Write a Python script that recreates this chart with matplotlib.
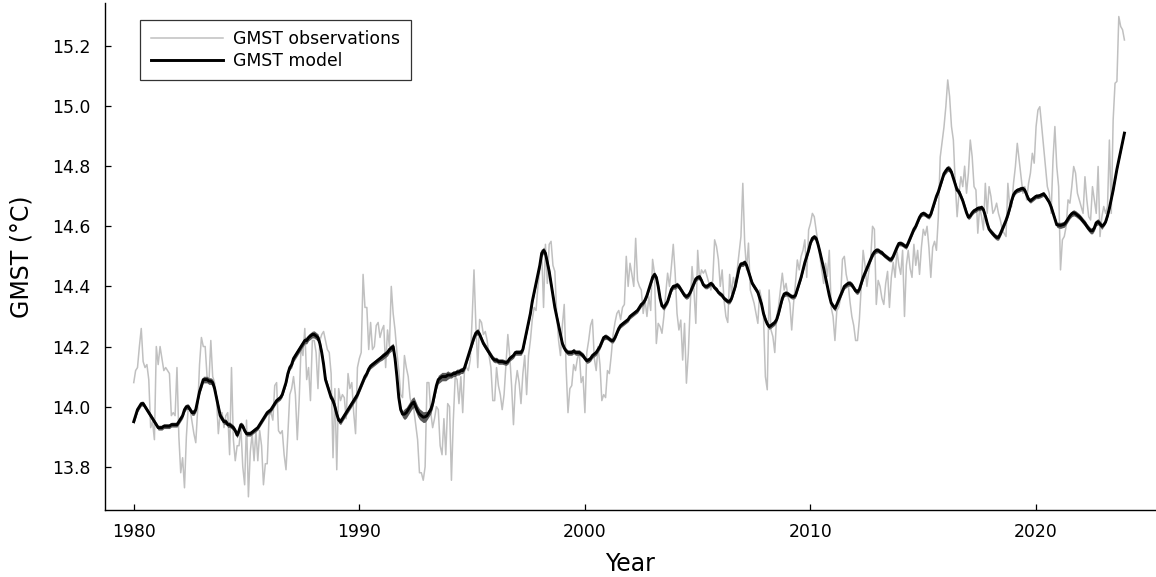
import numpy as np
import matplotlib
matplotlib.use("Agg")
import matplotlib.pyplot as plt

# Monthly global mean surface temperature, Jan 1980 - Dec 2023 (deg C)
gmst_obs = [
    14.08, 14.12, 14.13, 14.20, 14.26, 14.15, 14.13, 14.14, 14.09, 13.93, 13.95, 13.89,  # 1980
    14.20, 14.14, 14.20, 14.16, 14.12, 14.13, 14.12, 14.11, 13.97, 13.98, 13.97, 14.13,  # 1981
    13.90, 13.78, 13.83, 13.73, 13.90, 14.00, 13.99, 13.95, 13.91, 13.88, 13.99, 14.14,  # 1982
    14.23, 14.20, 14.20, 14.10, 14.08, 14.22, 14.10, 14.08, 14.03, 13.91, 13.98, 13.98,  # 1983
    13.93, 13.97, 13.98, 13.84, 14.13, 13.89, 13.82, 13.87, 13.87, 13.93, 13.80, 13.74,  # 1984
    13.955, 13.70, 13.85, 13.91, 13.82, 13.92, 13.82, 13.92, 13.87, 13.74, 13.81, 13.81,  # 1985
    13.97, 13.98, 13.955, 14.07, 14.08, 13.92, 13.91, 13.92, 13.84, 13.79, 13.91, 14.04,  # 1986
    14.06, 14.10, 14.04, 13.89, 14.02, 14.20, 14.17, 14.26, 14.09, 14.13, 14.02, 14.22,  # 1987
    14.22, 14.18, 14.06, 14.22, 14.24, 14.25, 14.22, 14.19, 14.18, 14.11, 13.83, 14.06,  # 1988
    13.79, 14.06, 14.02, 14.04, 14.03, 13.96, 14.11, 14.06, 14.08, 13.98, 13.91, 14.13,  # 1989
    14.16, 14.18, 14.44, 14.33, 14.33, 14.19, 14.28, 14.19, 14.20, 14.27, 14.28, 14.23,  # 1990
    14.255, 14.27, 14.13, 14.255, 14.20, 14.40, 14.31, 14.255, 14.18, 14.12, 14.04, 14.03,  # 1991
    14.17, 14.13, 14.10, 14.03, 14.00, 13.99, 13.94, 13.89, 13.78, 13.78, 13.755, 13.80,  # 1992
    14.08, 14.08, 13.98, 13.93, 13.96, 14.00, 13.99, 13.87, 13.84, 13.96, 13.84, 14.01,  # 1993
    14.00, 13.755, 13.955, 14.10, 14.09, 14.01, 14.10, 13.98, 14.13, 14.13, 14.12, 14.155,  # 1994
    14.29, 14.455, 14.27, 14.13, 14.29, 14.28, 14.24, 14.25, 14.22, 14.17, 14.13, 14.02,  # 1995
    14.02, 14.13, 14.07, 14.04, 13.99, 14.04, 14.14, 14.24, 14.17, 14.07, 13.94, 14.07,  # 1996
    14.12, 14.08, 14.01, 14.11, 14.17, 14.04, 14.17, 14.22, 14.29, 14.33, 14.32, 14.40,  # 1997
    14.455, 14.52, 14.33, 14.54, 14.41, 14.54, 14.55, 14.47, 14.45, 14.31, 14.22, 14.17,  # 1998
    14.27, 14.34, 14.13, 13.98, 14.06, 14.07, 14.14, 14.12, 14.16, 14.18, 14.08, 14.10,  # 1999
    13.98, 14.18, 14.22, 14.27, 14.29, 14.16, 14.12, 14.20, 14.14, 14.02, 14.04, 14.03,  # 2000
    14.12, 14.11, 14.17, 14.24, 14.28, 14.31, 14.32, 14.29, 14.33, 14.34, 14.50, 14.40,  # 2001
    14.477, 14.44, 14.40, 14.56, 14.42, 14.40, 14.388, 14.31, 14.355, 14.30, 14.366, 14.32,  # 2002
    14.49, 14.444, 14.21, 14.277, 14.266, 14.244, 14.30, 14.377, 14.444, 14.40, 14.466, 14.54,  # 2003
    14.444, 14.31, 14.255, 14.288, 14.155, 14.277, 14.078, 14.177, 14.333, 14.466, 14.388, 14.277,  # 2004
    14.52, 14.42, 14.455, 14.444, 14.455, 14.433, 14.41, 14.388, 14.42, 14.555, 14.533, 14.49,  # 2005
    14.40, 14.455, 14.355, 14.30, 14.28, 14.44, 14.377, 14.43, 14.40, 14.455, 14.51, 14.566,  # 2006
    14.743, 14.544, 14.455, 14.544, 14.388, 14.366, 14.344, 14.31, 14.277, 14.388, 14.355, 14.30,  # 2007
    14.10, 14.056, 14.388, 14.255, 14.233, 14.18, 14.30, 14.333, 14.388, 14.444, 14.388, 14.41,  # 2008
    14.366, 14.344, 14.255, 14.344, 14.41, 14.488, 14.455, 14.50, 14.52, 14.555, 14.43, 14.588,  # 2009
    14.61, 14.643, 14.632, 14.588, 14.544, 14.50, 14.455, 14.41, 14.477, 14.433, 14.52, 14.33,  # 2010
    14.30, 14.22, 14.32, 14.33, 14.36, 14.49, 14.50, 14.44, 14.41, 14.35, 14.30, 14.27,  # 2011
    14.22, 14.22, 14.29, 14.40, 14.52, 14.47, 14.40, 14.45, 14.49, 14.60, 14.59, 14.34,  # 2012
    14.42, 14.40, 14.36, 14.34, 14.41, 14.45, 14.33, 14.43, 14.48, 14.43, 14.52, 14.47,  # 2013
    14.44, 14.52, 14.30, 14.47, 14.52, 14.46, 14.43, 14.54, 14.47, 14.52, 14.44, 14.53,  # 2014
    14.59, 14.57, 14.60, 14.53, 14.43, 14.53, 14.55, 14.52, 14.63, 14.83, 14.88, 14.93,  # 2015
    14.998, 15.087, 15.032, 14.932, 14.887, 14.743, 14.632, 14.71, 14.765, 14.732, 14.80, 14.71,  # 2016
    14.777, 14.887, 14.832, 14.732, 14.721, 14.577, 14.666, 14.632, 14.588, 14.743, 14.643, 14.732,  # 2017
    14.699, 14.643, 14.655, 14.677, 14.643, 14.621, 14.588, 14.577, 14.566, 14.743, 14.666, 14.666,  # 2018
    14.743, 14.799, 14.876, 14.821, 14.765, 14.71, 14.732, 14.688, 14.743, 14.777, 14.843, 14.81,  # 2019
    14.932, 14.987, 14.998, 14.932, 14.865, 14.799, 14.732, 14.71, 14.643, 14.821, 14.932, 14.799,  # 2020
    14.732, 14.455, 14.555, 14.566, 14.60, 14.688, 14.677, 14.732, 14.799, 14.777, 14.71, 14.688,  # 2021
    14.666, 14.643, 14.765, 14.688, 14.632, 14.621, 14.732, 14.688, 14.643, 14.799, 14.566, 14.632,  # 2022
    14.666, 14.643, 14.666, 14.887, 14.643, 14.954, 15.076, 15.082, 15.298, 15.265, 15.254, 15.22,  # 2023
]

# Model estimate of GMST, same months
gmst_model = [
    13.95, 13.97, 13.99, 14.00, 14.01, 14.01, 14.00, 13.99, 13.98, 13.97, 13.96, 13.95,  # 1980
    13.94, 13.93, 13.93, 13.93, 13.935, 13.935, 13.935, 13.935, 13.94, 13.94, 13.94, 13.94,  # 1981
    13.95, 13.96, 13.97, 13.99, 14.00, 14.00, 13.99, 13.98, 13.98, 13.99, 14.02, 14.05,  # 1982
    14.07, 14.09, 14.09, 14.09, 14.085, 14.085, 14.08, 14.06, 14.03, 14.00, 13.97, 13.96,  # 1983
    13.95, 13.95, 13.94, 13.94, 13.935, 13.93, 13.92, 13.905, 13.92, 13.94, 13.935, 13.92,  # 1984
    13.91, 13.91, 13.91, 13.915, 13.92, 13.925, 13.93, 13.94, 13.95, 13.96, 13.97, 13.98,  # 1985
    13.985, 13.99, 14.00, 14.01, 14.02, 14.025, 14.03, 14.04, 14.06, 14.08, 14.11, 14.13,  # 1986
    14.14, 14.16, 14.17, 14.18, 14.19, 14.20, 14.21, 14.22, 14.22, 14.23, 14.235, 14.24,  # 1987
    14.24, 14.235, 14.23, 14.21, 14.18, 14.14, 14.09, 14.07, 14.05, 14.03, 14.02, 14.00,  # 1988
    13.975, 13.955, 13.95, 13.96, 13.97, 13.98, 13.99, 14.00, 14.01, 14.02, 14.03, 14.04,  # 1989
    14.055, 14.07, 14.085, 14.10, 14.11, 14.125, 14.135, 14.14, 14.145, 14.15, 14.155, 14.16,  # 1990
    14.165, 14.17, 14.175, 14.18, 14.19, 14.195, 14.20, 14.16, 14.10, 14.03, 13.99, 13.975,  # 1991
    13.975, 13.98, 13.99, 14.00, 14.01, 14.015, 14.00, 13.985, 13.975, 13.97, 13.965, 13.966,  # 1992
    13.97, 13.98, 13.99, 14.01, 14.04, 14.07, 14.09, 14.095, 14.10, 14.10, 14.10, 14.105,  # 1993
    14.105, 14.105, 14.11, 14.11, 14.115, 14.115, 14.12, 14.12, 14.13, 14.15, 14.17, 14.19,  # 1994
    14.21, 14.23, 14.245, 14.25, 14.24, 14.225, 14.21, 14.20, 14.19, 14.18, 14.17, 14.16,  # 1995
    14.155, 14.155, 14.15, 14.15, 14.15, 14.148, 14.146, 14.15, 14.16, 14.165, 14.17, 14.18,  # 1996
    14.18, 14.18, 14.18, 14.19, 14.22, 14.25, 14.28, 14.31, 14.35, 14.38, 14.41, 14.44,  # 1997
    14.47, 14.51, 14.52, 14.51, 14.48, 14.45, 14.41, 14.37, 14.33, 14.30, 14.27, 14.24,  # 1998
    14.21, 14.195, 14.185, 14.18, 14.18, 14.18, 14.185, 14.18, 14.18, 14.18, 14.175, 14.17,  # 1999
    14.16, 14.153, 14.155, 14.16, 14.17, 14.175, 14.18, 14.19, 14.20, 14.215, 14.23, 14.233,  # 2000
    14.23, 14.225, 14.22, 14.22, 14.23, 14.245, 14.26, 14.27, 14.275, 14.28, 14.285, 14.29,  # 2001
    14.30, 14.305, 14.31, 14.315, 14.32, 14.33, 14.34, 14.345, 14.355, 14.37, 14.39, 14.41,  # 2002
    14.43, 14.44, 14.43, 14.40, 14.36, 14.335, 14.33, 14.34, 14.35, 14.37, 14.39, 14.40,  # 2003
    14.40, 14.405, 14.40, 14.39, 14.38, 14.37, 14.366, 14.37, 14.38, 14.395, 14.41, 14.425,  # 2004
    14.43, 14.432, 14.42, 14.405, 14.40, 14.40, 14.405, 14.41, 14.405, 14.395, 14.39, 14.38,  # 2005
    14.375, 14.37, 14.36, 14.355, 14.35, 14.35, 14.36, 14.38, 14.40, 14.43, 14.46, 14.475,  # 2006
    14.475, 14.48, 14.47, 14.45, 14.43, 14.41, 14.40, 14.39, 14.38, 14.36, 14.34, 14.31,  # 2007
    14.29, 14.275, 14.266, 14.27, 14.275, 14.28, 14.29, 14.31, 14.335, 14.36, 14.375, 14.377,  # 2008
    14.375, 14.37, 14.366, 14.366, 14.37, 14.39, 14.41, 14.43, 14.455, 14.48, 14.50, 14.52,  # 2009
    14.545, 14.56, 14.565, 14.56, 14.54, 14.515, 14.488, 14.46, 14.43, 14.40, 14.37, 14.345,  # 2010
    14.335, 14.327, 14.34, 14.355, 14.37, 14.385, 14.40, 14.405, 14.41, 14.41, 14.405, 14.395,  # 2011
    14.385, 14.382, 14.39, 14.41, 14.43, 14.445, 14.46, 14.475, 14.49, 14.505, 14.515, 14.52,  # 2012
    14.52, 14.515, 14.512, 14.505, 14.50, 14.495, 14.49, 14.49, 14.50, 14.515, 14.53, 14.543,  # 2013
    14.543, 14.54, 14.535, 14.532, 14.545, 14.56, 14.575, 14.59, 14.60, 14.615, 14.63, 14.64,  # 2014
    14.643, 14.64, 14.635, 14.632, 14.64, 14.66, 14.68, 14.70, 14.715, 14.735, 14.755, 14.775,  # 2015
    14.785, 14.793, 14.79, 14.78, 14.76, 14.74, 14.72, 14.715, 14.70, 14.685, 14.665, 14.645,  # 2016
    14.63, 14.635, 14.645, 14.652, 14.655, 14.66, 14.66, 14.663, 14.655, 14.635, 14.61, 14.59,  # 2017
    14.582, 14.575, 14.568, 14.563, 14.563, 14.575, 14.59, 14.605, 14.62, 14.638, 14.66, 14.685,  # 2018
    14.705, 14.715, 14.72, 14.722, 14.725, 14.726, 14.72, 14.705, 14.69, 14.685, 14.69, 14.695,  # 2019
    14.70, 14.70, 14.702, 14.705, 14.708, 14.70, 14.69, 14.68, 14.665, 14.645, 14.625, 14.605,  # 2020
    14.604, 14.603, 14.605, 14.607, 14.615, 14.625, 14.635, 14.642, 14.645, 14.642, 14.637, 14.632,  # 2021
    14.625, 14.617, 14.61, 14.60, 14.592, 14.585, 14.585, 14.595, 14.612, 14.615, 14.608, 14.60,  # 2022
    14.605, 14.615, 14.635, 14.66, 14.69, 14.72, 14.755, 14.79, 14.82, 14.85, 14.88, 14.91,  # 2023
]

# Half-width of the model uncertainty band, one value per year (deg C)
band_years = list(range(1980, 2024))
band_halfwidth = [
    0.008, 0.008, 0.009, 0.011, 0.009, 0.008, 0.008, 0.011, 0.012, 0.010,
    0.009, 0.011, 0.018, 0.014, 0.010, 0.010, 0.009, 0.009, 0.011, 0.009,
    0.009, 0.008, 0.008, 0.009, 0.009, 0.008, 0.008, 0.009, 0.009, 0.008,
    0.008, 0.009, 0.009, 0.008, 0.008, 0.008, 0.010, 0.008, 0.009, 0.008,
    0.008, 0.010, 0.010, 0.006,
]

x_ticks = [1980, 1990, 2000, 2010, 2020]
y_ticks = [13.8, 14.0, 14.2, 14.4, 14.6, 14.8, 15.0, 15.2]

obs = np.array(gmst_obs)
model = np.array(gmst_model)
t = band_years[0] + np.arange(len(obs)) / 12.0
half = np.repeat(band_halfwidth, 12)

plt.rcParams["font.family"] = ["DejaVu Sans"]

fig = plt.figure(figsize=(11.56, 5.77), dpi=100)
ax = fig.add_axes([0.0912, 0.1161, 0.9079, 0.8787])

ax.plot(t, obs, color="#c0c0c0", lw=1.1, label="GMST observations", zorder=2)
ax.fill_between(t, model - half, model + half, color="#5a5a5a", lw=0, zorder=3)
ax.plot(t, model, color="black", lw=2.1, label="GMST model", zorder=4)

ax.set_xlim(1978.745, 2025.27)
ax.set_ylim(13.656, 15.343)
ax.set_xticks(x_ticks)
ax.set_yticks(y_ticks)
ax.set_yticklabels([f"{v:.1f}" for v in y_ticks])

for side in ("top", "right"):
    ax.spines[side].set_visible(False)
for side in ("left", "bottom"):
    ax.spines[side].set_linewidth(1.0)

ax.tick_params(axis="both", direction="in", length=4, width=0.9,
               labelsize=12.4, colors="black")
ax.tick_params(axis="x", pad=9)
ax.tick_params(axis="y", pad=11)

ax.set_xlabel("Year", fontsize=17, labelpad=8)
ax.set_ylabel("GMST (°C)", fontsize=17, labelpad=13)

leg = ax.legend(loc="upper left", bbox_to_anchor=(0.0333, 0.967),
                fontsize=12.4, frameon=True, fancybox=False,
                handlelength=4.2, handletextpad=0.6, labelspacing=0.22,
                borderpad=0.6, borderaxespad=0.0)
leg.get_frame().set_edgecolor("black")
leg.get_frame().set_linewidth(0.9)

fig.savefig("out.png", dpi=100)
